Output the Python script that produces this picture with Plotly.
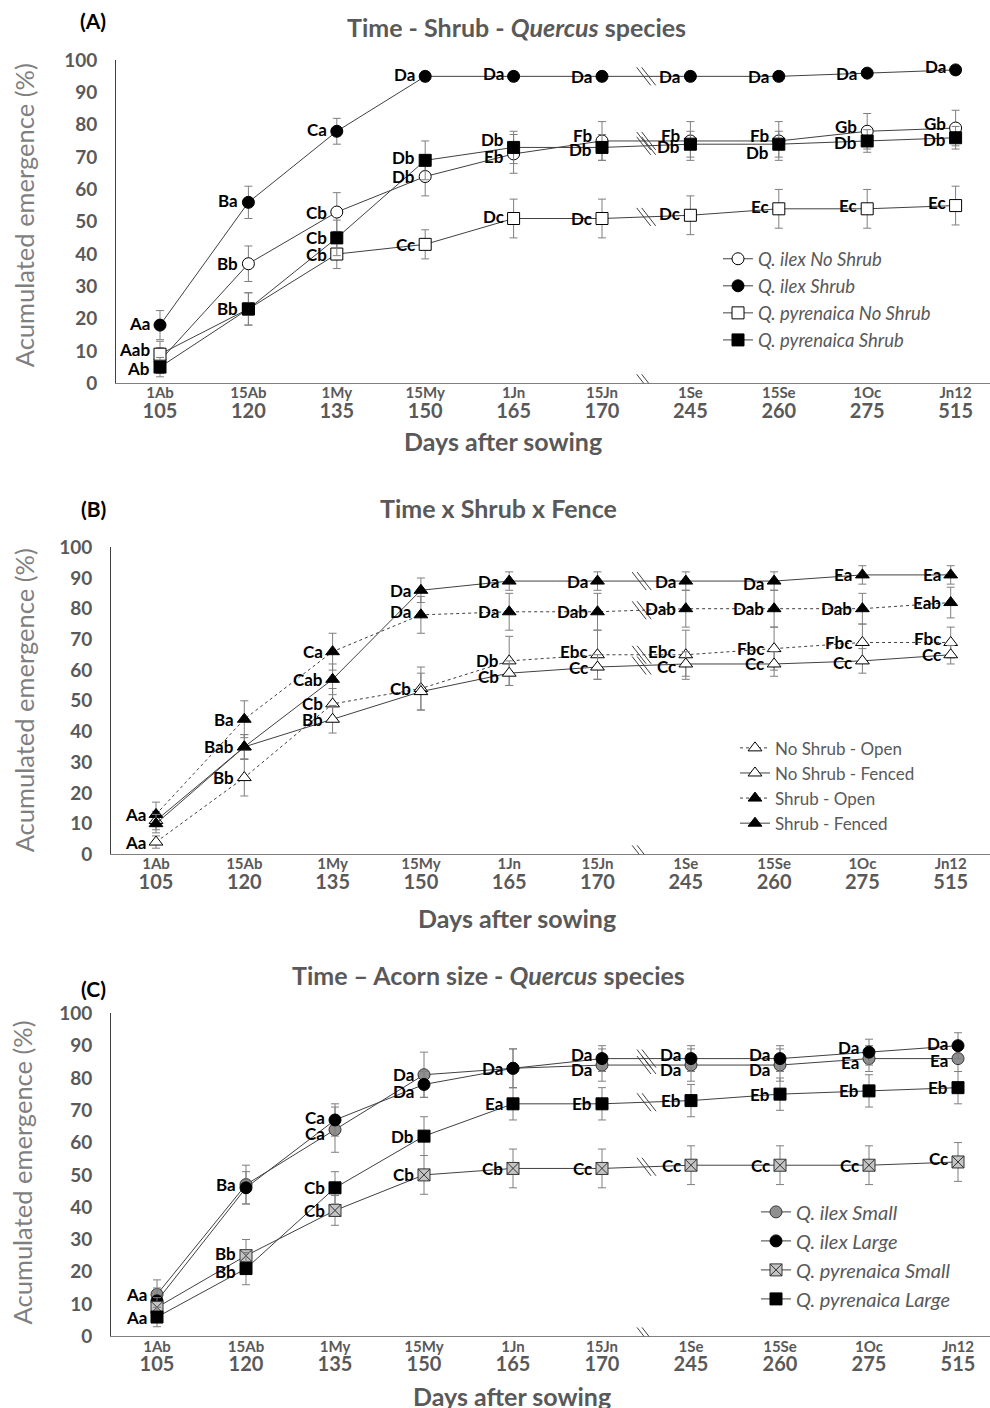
import plotly.graph_objects as go

# ---------------- data ----------------
months = ["1Ab", "15Ab", "1My", "15My", "1Jn", "15Jn", "1Se", "15Se", "1Oc", "Jn12"]
days = [105, 120, 135, 150, 165, 170, 245, 260, 275, 515]

# Panel A: Time - Shrub - Quercus species
a_ilex_noshrub = [7, 37, 53, 64, 71, 75, 75, 75, 78, 79]
a_ilex_noshrub_err = [4, 5.5, 6, 6, 6, 6, 6, 6, 5.5, 5.5]
a_ilex_noshrub_lbl = ["", "Bb", "Cb", "Db", "Eb", "Fb", "Fb", "Fb", "Gb", "Gb"]
a_ilex_shrub = [18, 56, 78, 95, 95, 95, 95, 95, 96, 97]
a_ilex_shrub_err = [4.5, 5, 4, 1.5, 1.5, 1.5, 1.5, 1.5, 1, 1]
a_ilex_shrub_lbl = ["Aa", "Ba", "Ca", "Da", "Da", "Da", "Da", "Da", "Da", "Da"]
a_pyr_noshrub = [9, 23, 40, 43, 51, 51, 52, 54, 54, 55]
a_pyr_noshrub_err = [4, 5, 4.5, 4.5, 6, 6, 6, 6, 6, 6]
a_pyr_noshrub_lbl = ["Aab", "", "Cb", "Cc", "Dc", "Dc", "Dc", "Ec", "Ec", "Ec"]
a_pyr_shrub = [5, 23, 45, 69, 73, 73, 74, 74, 75, 76]
a_pyr_shrub_err = [3, 5, 5.5, 6, 5, 4, 4, 4, 3.5, 3.5]
a_pyr_shrub_lbl = ["Ab", "Bb", "Cb", "Db", "Db", "Db", "Db", "Db", "Db", "Db"]

# Panel B: Time x Shrub x Fence
b_ns_open = [4, 25, 49, 54, 63, 65, 65, 67, 69, 69]
b_ns_open_err = [2, 6, 5, 7, 8, 8, 8, 7, 6, 5]
b_ns_open_lbl = ["Aa", "Bb", "Cb", "Cb", "Db", "Ebc", "Ebc", "Fbc", "Fbc", "Fbc"]
b_ns_fenced = [11, 35, 44, 53, 59, 61, 62, 62, 63, 65]
b_ns_fenced_err = [3, 4, 4.5, 6, 4, 4, 4, 4, 4, 3]
b_ns_fenced_lbl = ["", "", "Bb", "", "Cb", "Cc", "Cc", "Cc", "Cc", "Cc"]
b_s_open = [13, 44, 66, 78, 79, 79, 80, 80, 80, 82]
b_s_open_err = [4, 6, 6, 6, 6, 6, 6, 6, 5, 5]
b_s_open_lbl = ["Aa", "Ba", "Ca", "Da", "Da", "Dab", "Dab", "Dab", "Dab", "Eab"]
b_s_fenced = [10, 35, 57, 86, 89, 89, 89, 89, 91, 91]
b_s_fenced_err = [3, 4, 5, 4, 3, 3, 3, 3, 3, 3]
b_s_fenced_lbl = ["", "Bab", "Cab", "Da", "Da", "Da", "Da", "Da", "Ea", "Ea"]

# Panel C: Time - Acorn size - Quercus species
c_ilex_small = [13, 47, 64, 81, 83, 84, 84, 84, 86, 86]
c_ilex_small_err = [4.5, 6, 7, 7, 6, 5, 5, 5, 4, 4]
c_ilex_small_lbl = ["Aa", "Ba", "Ca", "Da", "Da", "Da", "Da", "Da", "Ea", "Ea"]
c_ilex_large = [11, 46, 67, 78, 83, 86, 86, 86, 88, 90]
c_ilex_large_err = [4, 5, 5, 4, 6, 4, 4, 4, 4, 4]
c_ilex_large_lbl = ["", "", "Ca", "Da", "", "Da", "Da", "Da", "Da", "Da"]
c_pyr_small = [9, 25, 39, 50, 52, 52, 53, 53, 53, 54]
c_pyr_small_err = [3, 5, 4.6, 6, 6, 6, 6, 6, 6, 6]
c_pyr_small_lbl = ["", "Bb", "Cb", "Cb", "Cb", "Cc", "Cc", "Cc", "Cc", "Cc"]
c_pyr_large = [6, 21, 46, 62, 72, 72, 73, 75, 76, 77]
c_pyr_large_err = [3, 5, 5, 6, 5, 5, 5, 5, 5, 5]
c_pyr_large_lbl = ["Aa", "Bb", "Cb", "Db", "Ea", "Eb", "Eb", "Eb", "Eb", "Eb"]

# label vertical nudges (px, + = up) — styling only
a_dy = {
    "ilex_ns": [0, 0, 0, 0, -3, 5, 5, 5, 5, 5],
    "ilex_s": [2, 2, 2, 2, 3, 0, 0, 0, 0, 3],
    "pyr_ns": [5, 0, 0, 0, 2, 0, 2, 2, 3, 3],
    "pyr_s": [-1, 0, 0, 3, 8, -2, -2, -8, -2, -2],
}
b_dy = {
    "ns_open": [0, 0, 0, 0, 0, 3, 3, 0, 0, 4],
    "ns_fen": [0, 0, 0, 0, -3, 0, -3, 0, -2, 0],
    "s_open": [0, 0, 0, 3, 0, 0, 0, 0, 0, 0],
    "s_fen": [0, 0, 0, 0, 0, 0, 0, -2, 0, 0],
}
c_dy = {
    "ilex_small": [0, 0, -4, 0, 0, -4, -4, -4, -4, -2],
    "ilex_large": [0, 0, 2, -7, 0, 4, 4, 4, 5, 2],
    "pyr_small": [0, 2, 0, 0, 0, 0, 0, 0, 0, 3],
    "pyr_large": [0, -3, 0, 0, 0, 0, 0, 0, 0, 0],
}

W, H = 990, 1408
# the page is photographed with a slight vertical squeeze; compensate
SQ, OFF = 0.9835, 11.8
FONT = "Lato"
GREY = "#595959"
LINE = "#404040"


def py(t):
    """target page pixel (from top) -> paper fraction"""
    return 1 - ((t - OFF) / SQ) / H


xcats = [str(d) for d in days]
ticktext = [f"{m}<br><span style='font-size:20px'>{d}</span>" for m, d in zip(months, days)]

fig = go.Figure()

# panel geometry (target page pixels)
panels = {
    1: dict(top=60, bottom=383, left=116, first=160, step=88.4),
    2: dict(top=547, bottom=854, left=111, first=156, step=88.3),
    3: dict(top=1013, bottom=1336, left=111, first=157, step=89.0),
}


def add_break(xa, ya, yv):
    for off in (-2.5, 2.5):
        fig.add_shape(type="line", xref=xa, yref=ya, xsizemode="pixel", ysizemode="pixel",
                      xanchor=5.5, yanchor=yv, x0=off - 7, x1=off + 7, y0=9, y1=-9,
                      line=dict(color=LINE, width=1))


def add_series(p, name, vals, errs, lbls, dy, symbol, fill, lcolor, dash, legend):
    xa = "x" if p == 1 else f"x{p}"
    ya = "y" if p == 1 else f"y{p}"
    fig.add_trace(go.Scatter(
        x=xcats, y=vals, xaxis=xa, yaxis=ya, name=name,
        mode="lines+markers",
        line=dict(color=LINE, width=1, dash=dash),
        marker=dict(symbol=symbol, size=12, color=fill, line=dict(color=lcolor, width=1)),
        error_y=dict(type="data", array=errs, visible=True, color="#7f7f7f", thickness=1, width=4),
        legend=legend, legendgroup=name, showlegend=True,
    ))
    for i, (v, t, d) in enumerate(zip(vals, lbls, dy)):
        if not t:
            continue
        fig.add_annotation(x=i, y=v, xref=xa, yref=ya, text=f"<b>{t}</b>", showarrow=False,
                           xanchor="right", yanchor="middle", xshift=-9, yshift=d,
                           borderpad=0,
                           font=dict(family=FONT, size=17, color="black"))
    mid = (vals[5] + vals[6]) / 2
    add_break(xa, ya, mid)


# Panel A
add_series(1, "<i>Q. ilex No Shrub</i>", a_ilex_noshrub, a_ilex_noshrub_err, a_ilex_noshrub_lbl,
           a_dy["ilex_ns"], "circle", "white", "black", "solid", "legend")
add_series(1, "<i>Q. ilex Shrub</i>", a_ilex_shrub, a_ilex_shrub_err, a_ilex_shrub_lbl,
           a_dy["ilex_s"], "circle", "black", "black", "solid", "legend")
add_series(1, "<i>Q. pyrenaica No Shrub</i>", a_pyr_noshrub, a_pyr_noshrub_err, a_pyr_noshrub_lbl,
           a_dy["pyr_ns"], "square", "white", "black", "solid", "legend")
add_series(1, "<i>Q. pyrenaica Shrub</i>", a_pyr_shrub, a_pyr_shrub_err, a_pyr_shrub_lbl,
           a_dy["pyr_s"], "square", "black", "black", "solid", "legend")

# Panel B
add_series(2, "No Shrub - Open", b_ns_open, b_ns_open_err, b_ns_open_lbl,
           b_dy["ns_open"], "triangle-up", "white", "black", "dot", "legend2")
add_series(2, "No Shrub - Fenced", b_ns_fenced, b_ns_fenced_err, b_ns_fenced_lbl,
           b_dy["ns_fen"], "triangle-up", "white", "black", "solid", "legend2")
add_series(2, "Shrub - Open", b_s_open, b_s_open_err, b_s_open_lbl,
           b_dy["s_open"], "triangle-up", "black", "black", "dot", "legend2")
add_series(2, "Shrub - Fenced", b_s_fenced, b_s_fenced_err, b_s_fenced_lbl,
           b_dy["s_fen"], "triangle-up", "black", "black", "solid", "legend2")

# Panel C
add_series(3, "<i>Q. ilex Small</i>", c_ilex_small, c_ilex_small_err, c_ilex_small_lbl,
           c_dy["ilex_small"], "circle", "#8f8f8f", "#333333", "solid", "legend3")
add_series(3, "<i>Q. ilex Large</i>", c_ilex_large, c_ilex_large_err, c_ilex_large_lbl,
           c_dy["ilex_large"], "circle", "black", "black", "solid", "legend3")
add_series(3, "<i>Q. pyrenaica Small</i>", c_pyr_small, c_pyr_small_err, c_pyr_small_lbl,
           c_dy["pyr_small"], "square-x", "#c4c4c4", "#333333", "solid", "legend3")
add_series(3, "<i>Q. pyrenaica Large</i>", c_pyr_large, c_pyr_large_err, c_pyr_large_lbl,
           c_dy["pyr_large"], "square", "black", "black", "solid", "legend3")

layout = dict(width=W, height=H, margin=dict(l=0, r=0, t=0, b=0),
              paper_bgcolor="white", plot_bgcolor="white", font=dict(family=FONT, color=GREY))

for p, g in panels.items():
    sfx = "" if p == 1 else str(p)
    left_r = -(g["first"] - g["left"]) / g["step"]
    right_r = (W - g["first"]) / g["step"]
    layout["xaxis" + sfx] = dict(
        domain=[g["left"] / W, 1.0], anchor="y" + sfx, type="category",
        categoryorder="array", categoryarray=xcats,
        range=[left_r, right_r], tickvals=xcats, ticktext=ticktext,
        showline=True, linecolor="#808080", linewidth=1.3, ticks="", showgrid=False,
        zeroline=False, tickfont=dict(family=FONT, size=15, color=GREY, weight="bold"),
        ticklabelstandoff=-4,
    )
    layout["yaxis" + sfx] = dict(
        domain=[py(g["bottom"]), py(g["top"])], anchor="x" + sfx,
        range=[0, 100], dtick=10, showline=True, linecolor="#404040", linewidth=1,
        ticks="", showgrid=False, zeroline=False, ticklabelstandoff=14,
        tickfont=dict(family=FONT, size=19, color=GREY, weight="bold"),
    )

layout["legend"] = dict(x=718 / W, y=py(240), xanchor="left", yanchor="top",
                        font=dict(family=FONT, size=18.5, color=GREY),
                        bgcolor="rgba(0,0,0,0)", traceorder="grouped", tracegroupgap=0,
                        itemwidth=30)
layout["legend2"] = dict(x=735 / W, y=py(730), xanchor="left", yanchor="top",
                         font=dict(family=FONT, size=17, color=GREY),
                         bgcolor="rgba(0,0,0,0)", traceorder="grouped", tracegroupgap=0,
                         itemwidth=30)
layout["legend3"] = dict(x=756 / W, y=py(1192), xanchor="left", yanchor="top",
                         font=dict(family=FONT, size=20, color=GREY),
                         bgcolor="rgba(0,0,0,0)", traceorder="grouped", tracegroupgap=0,
                         itemwidth=30)
fig.update_layout(**layout)

# panel letters, titles, axis titles
letters = [("(A)", 20), ("(B)", 508), ("(C)", 988)]
for t, yp in letters:
    fig.add_annotation(x=93 / W, y=py(yp), xref="paper", yref="paper", text=f"<b>{t}</b>",
                       showarrow=False, xanchor="center", yanchor="middle",
                       font=dict(family=FONT, size=21, color="black"))

titles = [("Time - Shrub - <i>Quercus</i> species", 516, 27),
          ("Time x Shrub x Fence", 498, 508),
          ("Time \u2013 Acorn size - <i>Quercus</i> species", 488, 975)]
for t, xp, yp in titles:
    fig.add_annotation(x=xp / W, y=py(yp), xref="paper", yref="paper", text=f"<b>{t}</b>",
                       showarrow=False, xanchor="center", yanchor="middle",
                       font=dict(family=FONT, size=25, color=GREY))

xt = [(503, 441), (517, 918), (512, 1396)]
for xp, yp in xt:
    fig.add_annotation(x=xp / W, y=py(yp), xref="paper", yref="paper",
                       text="<b>Days after sowing</b>", showarrow=False,
                       xanchor="center", yanchor="middle",
                       font=dict(family=FONT, size=25, color=GREY))

yt = [(24, 215), (24, 700), (22, 1172)]
for xp, yp in yt:
    fig.add_annotation(x=xp / W, y=py(yp), xref="paper", yref="paper",
                       text="Acumulated emergence (%)", showarrow=False, textangle=-90,
                       xanchor="center", yanchor="middle",
                       font=dict(family=FONT, size=25.5, color="#7f7f7f"))

# axis break marks on the x axes
for p in panels:
    sfx = "" if p == 1 else str(p)
    add_break("x" + sfx, "y" + sfx, 0)

fig.write_html("out.html", config={"displayModeBar": False},
               post_script="document.body.style.margin='0';document.body.style.overflow='hidden';")
